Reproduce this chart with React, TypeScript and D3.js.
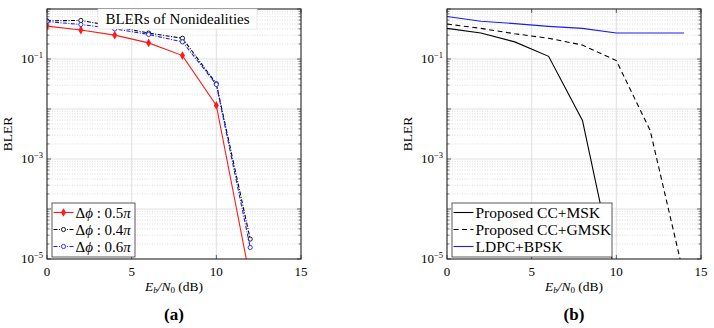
import React from 'react';
import * as d3 from 'd3';

// left panel: phase offset nonidealities
const ebn0Left = [0, 2, 4, 6, 8, 10, 12];
const blerPhase05 = [0.455, 0.38, 0.3, 0.21, 0.117, 0.0118, 4e-6];
const blerPhase04 = [0.58, 0.59, 0.45, 0.33, 0.26, 0.032, 2.5e-5];
const blerPhase06 = [0.56, 0.49, 0.4, 0.31, 0.22, 0.031, 1.7e-5];

// right panel: scheme comparison
const ebn0Right = [0, 2, 4, 6, 8, 10, 12, 14];
const blerMsk = [0.41, 0.33, 0.22, 0.113, 0.0059, 4e-6, NaN, NaN];
const blerGmsk = [0.5, 0.41, 0.32, 0.26, 0.19, 0.093, 0.0037, 4.5e-6];
const blerLdpc = [0.71, 0.57, 0.51, 0.45, 0.41, 0.33, 0.33, 0.33];

const xTicks = [0, 5, 10, 15];
const yMajor = [1e-5, 1e-3, 1e-1];

const FONT = '"Liberation Serif", "DejaVu Serif", serif';

type Series = {
  name: string;
  xs: number[];
  ys: number[];
  color: string;
  dash?: string;
  marker?: 'diamond' | 'circle';
};

const Panel: React.FC<{
  id: string;
  x0: number;
  x1: number;
  series: Series[];
  caption: string;
  legend: { x: number; w: number; lineW: number; font: number };
  title?: string;
}> = ({ id, x0, x1, series, caption, legend, title }) => {
  const top = 9;
  const bottom = 259;
  const x = d3.scaleLinear().domain([0, 15]).range([x0, x1]);
  const y = d3.scaleLog().domain([1e-5, 1]).range([bottom, top]);

  const minor: number[] = [];
  for (let e = -5; e < 0; e++) {
    for (let k = 2; k <= 9; k++) minor.push(k * Math.pow(10, e));
  }
  const line = d3
    .line<[number, number]>()
    .defined(d => !isNaN(d[1]))
    .x(d => x(d[0]))
    .y(d => y(d[1]));

  const cx = (x0 + x1) / 2;
  const legendY = 203;
  const rowH = 17;

  return (
    <g>
      <defs>
        <clipPath id={`clip-${id}`}>
          <rect x={x0} y={top} width={x1 - x0} height={bottom - top} />
        </clipPath>
      </defs>
      {/* minor grid */}
      {minor.map((v, i) => (
        <line key={'mg' + i} x1={x0} x2={x1} y1={y(v)} y2={y(v)} stroke="#c8c8c8" strokeWidth={0.6} strokeDasharray="1,1.5" />
      ))}
      {/* major grid */}
      {[1e-4, 1e-3, 1e-2, 1e-1].map((v, i) => (
        <line key={'Mg' + i} x1={x0} x2={x1} y1={y(v)} y2={y(v)} stroke="#d9d9d9" strokeWidth={0.8} />
      ))}
      {[5, 10].map(v => (
        <line key={'vx' + v} x1={x(v)} x2={x(v)} y1={top} y2={bottom} stroke="#d9d9d9" strokeWidth={0.8} />
      ))}
      {/* minor ticks */}
      {minor.map((v, i) => (
        <g key={'mt' + i}>
          <line x1={x0} x2={x0 + 2.5} y1={y(v)} y2={y(v)} stroke="#222" strokeWidth={0.6} />
          <line x1={x1} x2={x1 - 2.5} y1={y(v)} y2={y(v)} stroke="#222" strokeWidth={0.6} />
        </g>
      ))}
      {[1e-5, 1e-4, 1e-3, 1e-2, 1e-1, 1].map((v, i) => (
        <g key={'Mt' + i}>
          <line x1={x0} x2={x0 + 4} y1={y(v)} y2={y(v)} stroke="#222" strokeWidth={0.7} />
          <line x1={x1} x2={x1 - 4} y1={y(v)} y2={y(v)} stroke="#222" strokeWidth={0.7} />
        </g>
      ))}
      {xTicks.map(v => (
        <g key={'xt' + v}>
          <line x1={x(v)} x2={x(v)} y1={bottom} y2={bottom - 4} stroke="#222" strokeWidth={0.7} />
          <line x1={x(v)} x2={x(v)} y1={top} y2={top + 4} stroke="#222" strokeWidth={0.7} />
          <text x={x(v)} y={bottom + 17} textAnchor="middle" fontSize={13} fontFamily={FONT}>{v}</text>
        </g>
      ))}
      {yMajor.map(v => (
        <text key={'yl' + v} x={x0 - 4} y={y(v) + 4} textAnchor="end" fontSize={13} fontFamily={FONT}>
          10<tspan dy={-5} fontSize={8.5}>{'\u2212' + Math.round(-Math.log10(v))}</tspan>
        </text>
      ))}
      {/* series */}
      <g clipPath={`url(#clip-${id})`}>
        {series.map(s => {
          const pts = s.xs.map((v, i) => [v, s.ys[i]] as [number, number]);
          return (
            <g key={s.name}>
              <path d={line(pts) || ''} fill="none" stroke={s.color} strokeWidth={1.1} strokeDasharray={s.dash} />
              {s.marker &&
                pts.filter(p => !isNaN(p[1])).map((p, i) =>
                  s.marker === 'diamond' ? (
                    <path key={i} transform={`translate(${x(p[0])},${y(p[1])})`} d={d3.symbol(d3.symbolDiamond, 22)() || ''} fill={s.color} />
                  ) : (
                    <circle key={i} cx={x(p[0])} cy={y(p[1])} r={2.1} fill="white" stroke={s.color} strokeWidth={0.9} />
                  )
                )}
            </g>
          );
        })}
      </g>
      {/* frame */}
      <rect x={x0} y={top} width={x1 - x0} height={bottom - top} fill="none" stroke="#222" strokeWidth={1.1} />
      {title && (
        <g>
          <rect x={98} y={top} width={159} height={20} fill="white" stroke="#e0e0e0" strokeWidth={0.6} />
          <text x={177.5} y={top + 15} textAnchor="middle" fontSize={15} fontFamily={FONT}>{title}</text>
        </g>
      )}
      {/* legend */}
      <rect x={legend.x} y={legendY} width={legend.w} height={54} fill="white" stroke="#333" strokeWidth={0.8} />
      {series.map((s, i) => {
        const ly = legendY + 9.5 + i * rowH;
        const lx0 = legend.x + 1.5;
        const lx1 = lx0 + legend.lineW;
        return (
          <g key={'lg' + s.name}>
            <line x1={lx0} x2={lx1} y1={ly} y2={ly} stroke={s.color} strokeWidth={1.1} strokeDasharray={s.dash} />
            {s.marker === 'diamond' && (
              <path transform={`translate(${(lx0 + lx1) / 2},${ly})`} d={d3.symbol(d3.symbolDiamond, 22)() || ''} fill={s.color} />
            )}
            {s.marker === 'circle' && <circle cx={(lx0 + lx1) / 2} cy={ly} r={2.1} fill="white" stroke={s.color} strokeWidth={0.9} />}
            <text x={lx1 + 2} y={ly + 5} fontSize={legend.font} fontFamily={FONT}>
              {s.name.startsWith('Δ') ? (
                <>
                  {'Δ'}
                  <tspan fontStyle="italic">{'ϕ'}</tspan>
                  {' : ' + s.name.slice(5, -1)}
                  <tspan fontStyle="italic">{'π'}</tspan>
                </>
              ) : (
                s.name
              )}
            </text>
          </g>
        );
      })}
      {/* axis labels */}
      <text x={cx} y={bottom + 32} textAnchor="middle" fontSize={13.5} fontFamily={FONT}>
        <tspan fontStyle="italic">E</tspan>
        <tspan fontSize={9} dy={2} fontStyle="italic">b</tspan>
        <tspan dy={-2} fontStyle="italic">/N</tspan>
        <tspan fontSize={9} dy={2}>0</tspan>
        <tspan dy={-2}>{' (dB)'}</tspan>
      </text>
      <text transform={`translate(${x0 - 35},${(top + bottom) / 2}) rotate(-90)`} textAnchor="middle" fontSize={13.5} fontFamily={FONT}>
        BLER
      </text>
      <text x={cx} y={bottom + 61} textAnchor="middle" fontSize={17} fontWeight="bold" fontFamily={FONT}>
        {caption}
      </text>
    </g>
  );
};

export default function App() {
  const leftSeries: Series[] = [
    { name: 'Δϕ : 0.5π', xs: ebn0Left, ys: blerPhase05, color: '#ff1a1a', marker: 'diamond' },
    { name: 'Δϕ : 0.4π', xs: ebn0Left, ys: blerPhase04, color: '#000', dash: '4,1.5,1,1.5', marker: 'circle' },
    { name: 'Δϕ : 0.6π', xs: ebn0Left, ys: blerPhase06, color: '#1a1aff', dash: '4,1.5,1,1.5', marker: 'circle' },
  ];
  const rightSeries: Series[] = [
    { name: 'Proposed CC+MSK', xs: ebn0Right, ys: blerMsk, color: '#000' },
    { name: 'Proposed CC+GMSK', xs: ebn0Right, ys: blerGmsk, color: '#000', dash: '5,3.5' },
    { name: 'LDPC+BPSK', xs: ebn0Right, ys: blerLdpc, color: '#1a1aff' },
  ];
  return (
    <svg width={714} height={328} style={{ position: 'absolute', left: 0, top: 0, background: 'white' }}>
      <Panel id="a" x0={47} x1={301} series={leftSeries} caption="(a)" legend={{ x: 52, w: 83, lineW: 20, font: 15 }} title="BLERs of Nonidealities" />
      <Panel id="b" x0={447} x1={701} series={rightSeries} caption="(b)" legend={{ x: 452, w: 160, lineW: 20, font: 15.5 }} />
    </svg>
  );
}
